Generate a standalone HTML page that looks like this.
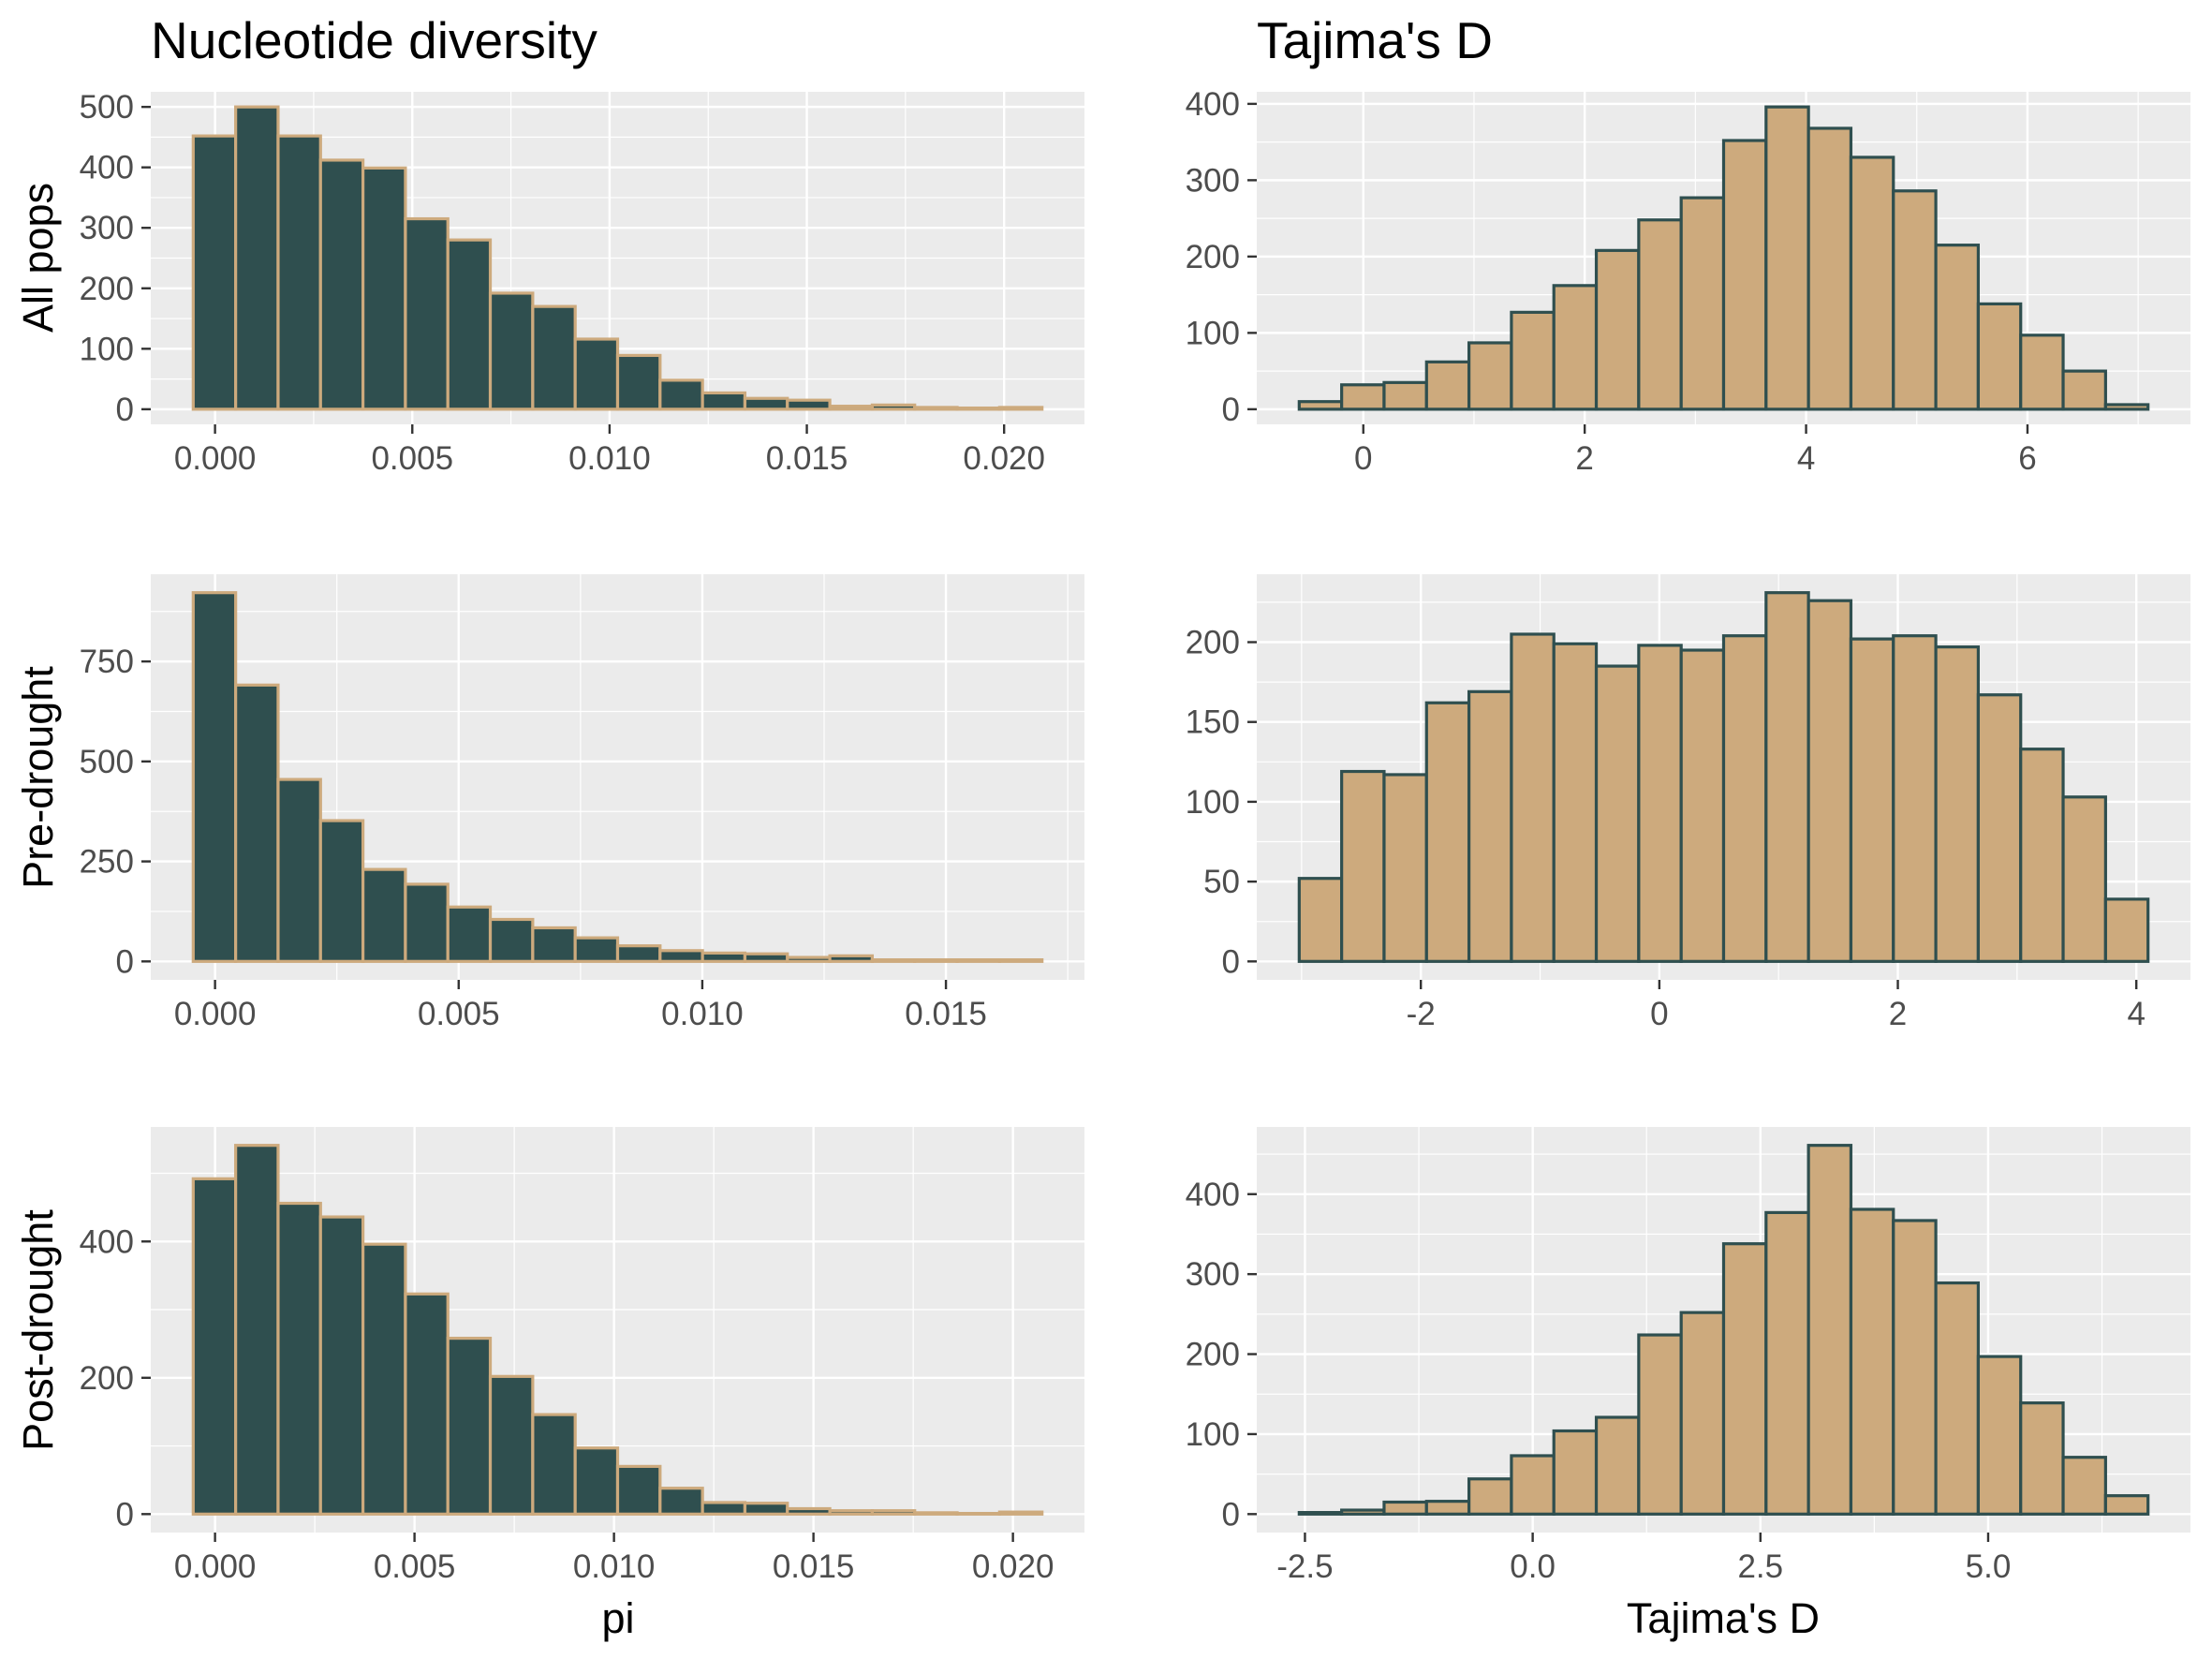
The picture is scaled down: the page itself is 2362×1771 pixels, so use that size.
<!DOCTYPE html>
<html><head><meta charset="utf-8"><style>
html,body{margin:0;padding:0;background:#fff;}
svg{display:block;font-family:"Liberation Sans",Arial,sans-serif;}
</style></head><body>
<svg id="chart" xmlns="http://www.w3.org/2000/svg" width="2362" height="1771" viewBox="0 0 2362 1771">
<rect x="0" y="0" width="2362" height="1771" fill="#fff"/>
<text x="161" y="62" font-size="55" fill="#000">Nucleotide diversity</text>
<text x="1342" y="62" font-size="55" fill="#000">Tajima's D</text>
<text transform="translate(56,275) rotate(-90)" text-anchor="middle" font-size="45" fill="#000">All pops</text>
<text transform="translate(56,830) rotate(-90)" text-anchor="middle" font-size="45" fill="#000">Pre-drought</text>
<text transform="translate(56,1420) rotate(-90)" text-anchor="middle" font-size="45" fill="#000">Post-drought</text>
<text x="660" y="1743" text-anchor="middle" font-size="45" fill="#000">pi</text>
<text x="1840" y="1743" text-anchor="middle" font-size="45" fill="#000">Tajima's D</text>
</svg>
<script>
// ---- data ----
const binCount = 20;
const tlBinStart = -0.000553, tlBinWidth = 0.0010757;
const tlCounts = [452, 500, 452, 412, 399, 315, 280, 192, 170, 116, 89, 48, 27, 18, 15, 5, 7, 3, 2, 3];
const tlXTicks = [0, 0.005, 0.010, 0.015, 0.020];
const tlXLabels = ["0.000", "0.005", "0.010", "0.015", "0.020"];
const tlYTicks = [0, 100, 200, 300, 400, 500];

const trBinStart = -0.579, trBinWidth = 0.3834;
const trCounts = [10, 32, 35, 62, 87, 127, 162, 208, 248, 277, 352, 396, 368, 330, 286, 215, 138, 97, 50, 6];
const trXTicks = [0, 2, 4, 6];
const trXLabels = ["0", "2", "4", "6"];
const trYTicks = [0, 100, 200, 300, 400];

const mlBinStart = -0.000448, mlBinWidth = 0.000871;
const mlCounts = [922, 691, 455, 352, 230, 193, 136, 105, 84, 59, 39, 27, 21, 19, 10, 14, 4, 4, 4, 4];
const mlXTicks = [0, 0.005, 0.010, 0.015];
const mlXLabels = ["0.000", "0.005", "0.010", "0.015"];
const mlYTicks = [0, 250, 500, 750];

const mrBinStart = -3.020, mrBinWidth = 0.3559;
const mrCounts = [52, 119, 117, 162, 169, 205, 199, 185, 198, 195, 204, 231, 226, 202, 204, 197, 167, 133, 103, 39];
const mrXTicks = [-2, 0, 2, 4];
const mrXLabels = ["-2", "0", "2", "4"];
const mrYTicks = [0, 50, 100, 150, 200];

const blBinStart = -0.000547, blBinWidth = 0.0010638;
const blCounts = [492, 541, 456, 436, 396, 323, 258, 202, 146, 97, 70, 38, 17, 16, 8, 5, 5, 2, 1, 3];
const blXTicks = [0, 0.005, 0.010, 0.015, 0.020];
const blXLabels = ["0.000", "0.005", "0.010", "0.015", "0.020"];
const blYTicks = [0, 200, 400];

const brBinStart = -2.563, brBinWidth = 0.4659;
const brCounts = [2, 5, 15, 16, 44, 73, 104, 121, 224, 252, 338, 377, 461, 381, 367, 289, 197, 139, 71, 23];
const brXTicks = [-2.5, 0, 2.5, 5.0];
const brXLabels = ["-2.5", "0.0", "2.5", "5.0"];
const brYTicks = [0, 100, 200, 300, 400];

// ---- drawing ----
const NS = "http://www.w3.org/2000/svg";
const svg = document.getElementById("chart");
function mk(tag, attrs, parent) {
  const e = document.createElementNS(NS, tag);
  for (const k in attrs) e.setAttribute(k, attrs[k]);
  (parent || svg).appendChild(e);
  return e;
}

function panel(id, box, binStart, binWidth, counts, xTicks, xLabels, yTicks, fill, stroke) {
  const g = mk("g", {});
  
  
  const xmin = binStart, xmax = binStart + binCount * binWidth;
  const xr = xmax - xmin;
  const dx0 = xmin - 0.05 * xr, dx1 = xmax + 0.05 * xr;
  const ymax = Math.max.apply(null, counts);
  const dy0 = -0.05 * ymax, dy1 = 1.05 * ymax;
  const X = v => box.x0 + (v - dx0) / (dx1 - dx0) * (box.x1 - box.x0);
  const Y = v => box.y1 - (v - dy0) / (dy1 - dy0) * (box.y1 - box.y0);

  const bg = mk("rect", {x: box.x0, y: box.y0, width: box.x1 - box.x0, height: box.y1 - box.y0, fill: "#EBEBEB"}, g);
  
  

  const xs = xTicks[1] - xTicks[0], ys = yTicks[1] - yTicks[0];
  for (let v = xTicks[0] - xs / 2; v <= dx1; v += xs) {
    if (v < dx0) continue;
    const l = mk("line", {x1: X(v), x2: X(v), y1: box.y0, y2: box.y1, stroke: "#fff", "stroke-width": 1.2}, g);
    
    
  }
  for (let v = xTicks[0] - xs / 2 - xs; v >= dx0; v -= xs) {
    const l = mk("line", {x1: X(v), x2: X(v), y1: box.y0, y2: box.y1, stroke: "#fff", "stroke-width": 1.2}, g);
    
    
  }
  for (let v = yTicks[0] + ys / 2; v <= dy1; v += ys) {
    const l = mk("line", {x1: box.x0, x2: box.x1, y1: Y(v), y2: Y(v), stroke: "#fff", "stroke-width": 1.2}, g);
    
    
  }
  xTicks.forEach((v, i) => {
    const l = mk("line", {x1: X(v), x2: X(v), y1: box.y0, y2: box.y1, stroke: "#fff", "stroke-width": 2.4}, g);
    
    
    const t = mk("line", {x1: X(v), x2: X(v), y1: box.y1, y2: box.y1 + 10, stroke: "#333", "stroke-width": 2.4}, g);
    
    
    const tx = mk("text", {x: X(v), y: box.y1 + 48, "text-anchor": "middle", "font-size": 35, fill: "#4D4D4D"}, g);
    tx.textContent = xLabels[i];
    
    
  });
  yTicks.forEach(v => {
    const l = mk("line", {x1: box.x0, x2: box.x1, y1: Y(v), y2: Y(v), stroke: "#fff", "stroke-width": 2.4}, g);
    
    
    const t = mk("line", {x1: box.x0 - 10, x2: box.x0, y1: Y(v), y2: Y(v), stroke: "#333", "stroke-width": 2.4}, g);
    
    
    const tx = mk("text", {x: box.x0 - 18, y: Y(v) + 12, "text-anchor": "end", "font-size": 35, fill: "#4D4D4D"}, g);
    tx.textContent = String(v);
    
    
  });
  counts.forEach((c, i) => {
    const a = binStart + i * binWidth, b = a + binWidth;
    const r = mk("rect", {x: X(a), y: Y(c), width: X(b) - X(a), height: Y(0) - Y(c), fill: fill, stroke: stroke, "stroke-width": 3.2}, g);
    
    
  });
}

const DARK = "#2F4F4F", TAN = "#CDAA7D";
panel("all-pops-pi", {x0: 161, x1: 1158, y0: 98, y1: 453}, tlBinStart, tlBinWidth, tlCounts, tlXTicks, tlXLabels, tlYTicks, DARK, TAN);
panel("all-pops-tajima", {x0: 1342, x1: 2339, y0: 98, y1: 453}, trBinStart, trBinWidth, trCounts, trXTicks, trXLabels, trYTicks, TAN, DARK);
panel("pre-drought-pi", {x0: 161, x1: 1158, y0: 613, y1: 1046}, mlBinStart, mlBinWidth, mlCounts, mlXTicks, mlXLabels, mlYTicks, DARK, TAN);
panel("pre-drought-tajima", {x0: 1342, x1: 2339, y0: 613, y1: 1046}, mrBinStart, mrBinWidth, mrCounts, mrXTicks, mrXLabels, mrYTicks, TAN, DARK);
panel("post-drought-pi", {x0: 161, x1: 1158, y0: 1203, y1: 1636}, blBinStart, blBinWidth, blCounts, blXTicks, blXLabels, blYTicks, DARK, TAN);
panel("post-drought-tajima", {x0: 1342, x1: 2339, y0: 1203, y1: 1636}, brBinStart, brBinWidth, brCounts, brXTicks, brXLabels, brYTicks, TAN, DARK);
</script>
</body></html>
